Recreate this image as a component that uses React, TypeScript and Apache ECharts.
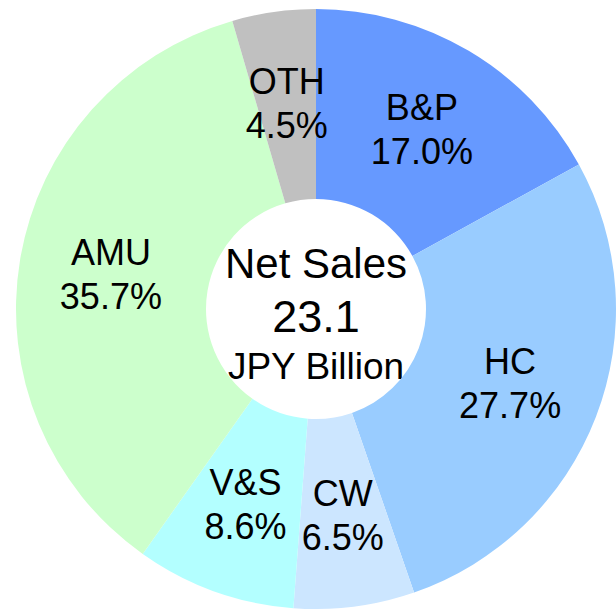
import React, { useEffect, useRef } from "react";
import * as echarts from "echarts";

const categories = ["B&P", "HC", "CW", "V&S", "AMU", "OTH"];
const shares = [17.0, 27.7, 6.5, 8.6, 35.7, 4.5];
const colors = ["#6699FF", "#99CCFF", "#CCE6FF", "#B3FFFF", "#CCFFCC", "#C0C0C0"];
const centerLines = ["Net Sales", "23.1", "JPY Billion"];

const FONT = '"Liberation Sans", Arial, sans-serif';

export default function App() {
  const ref = useRef<HTMLDivElement>(null);

  useEffect(() => {
    document.body.style.margin = "0";
    if (!ref.current) return;
    const chart = echarts.init(ref.current, undefined, { renderer: "svg" });
    const cx = 316;
    const cy = 309;
    chart.setOption({
      animation: false,
      backgroundColor: "#FFFFFF",
      series: [
        {
          type: "pie",
          center: [cx, cy],
          radius: [110, 300],
          startAngle: 90,
          clockwise: true,
          avoidLabelOverlap: false,
          silent: true,
          itemStyle: { borderWidth: 0 },
          label: {
            show: true,
            position: "inside",
            color: "#000",
            fontFamily: FONT,
            fontSize: 36,
            lineHeight: 44,
            align: "center",
            formatter: (p: any) => `${p.name}\n${Number(p.value).toFixed(1)}%`,
          },
          labelLine: { show: false },
          emphasis: { disabled: true },
          data: categories.map((c, i) => ({
            name: c,
            value: shares[i],
            itemStyle: { color: colors[i] },
          })),
        },
      ],
      graphic: [
        {
          type: "text",
          x: cx,
          y: 263,
          style: {
            text: centerLines[0],
            fill: "#000",
            font: `42px ${FONT}`,
            textAlign: "center",
            textVerticalAlign: "middle",
          },
        },
        {
          type: "text",
          x: cx,
          y: 316,
          style: {
            text: centerLines[1],
            fill: "#000",
            font: `45px ${FONT}`,
            textAlign: "center",
            textVerticalAlign: "middle",
          },
        },
        {
          type: "text",
          x: cx,
          y: 366,
          style: {
            text: centerLines[2],
            fill: "#000",
            font: `37px ${FONT}`,
            textAlign: "center",
            textVerticalAlign: "middle",
          },
        },
      ],
    });
    return () => chart.dispose();
  }, []);

  return (
    <div
      ref={ref}
      style={{ position: "absolute", left: 0, top: 0, width: 616, height: 610 }}
    />
  );
}
